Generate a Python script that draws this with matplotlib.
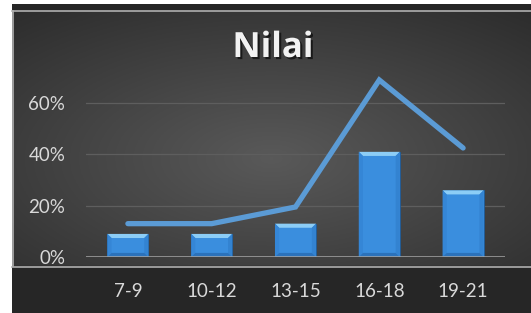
import matplotlib
matplotlib.use("Agg")
import matplotlib.pyplot as plt
import matplotlib.patheffects as pe
from matplotlib.lines import Line2D
from matplotlib.patches import Polygon
import numpy as np

# data
categories = ["7-9", "10-12", "13-15", "16-18", "19-21"]
bar_values = [0.09, 0.09, 0.13, 0.41, 0.26]
line_values = [0.13, 0.13, 0.195, 0.69, 0.425]
y_ticks = [0.0, 0.2, 0.4, 0.6]
title = "Nilai"

W, H = 531, 313
fig = plt.figure(figsize=(W / 100, H / 100), dpi=100)
fig.patch.set_facecolor("white")

# dark backdrop with a soft radial light in the middle
bg = fig.add_axes([12 / W, 0, 1 - 12 / W, 1 - 4 / H])
gx, gy = np.meshgrid(np.linspace(-1, 1, 300), np.linspace(-1, 1, 200))
r = np.sqrt((gx * 0.8) ** 2 + (gy * 1.0) ** 2)
shade = np.clip(0.35 - 0.14 * r, 0.17, 0.35)
bg.imshow(np.dstack([shade] * 3), aspect="auto", extent=[0, 1, 0, 1], zorder=0)
bg.fill_between([0, 1], 0, (313 - 266) / (H - 4), color="#262626", zorder=1)
bg.fill_between([0, 1], 1 - 6 / (H - 4), 1, color="#262626", zorder=1)
bg.set_xlim(0, 1)
bg.set_ylim(0, 1)
bg.axis("off")

# thin light frame of the chart area
frame = dict(color="#b0b0b0", lw=1.2, transform=fig.transFigure)
fig.add_artist(Line2D([12 / W, 1], [1 - 10.5 / H] * 2, **frame))
fig.add_artist(Line2D([12.5 / W] * 2, [1 - 10.5 / H, 1 - 266 / H], **frame))
fig.add_artist(Line2D([12 / W, 1], [1 - 266.5 / H] * 2, **frame))

ymax = 0.72
px_per_unit = 51.3 / 0.2
ax_h = ymax * px_per_unit / H
ax = fig.add_axes([86 / W, (H - 257) / H, 419 / W, ax_h])
ax.patch.set_alpha(0)

x = np.arange(len(categories))
bw = 0.49
bars = ax.bar(x, bar_values, width=bw, color="#3a8ede", edgecolor="#1f5a96",
              linewidth=0.6, zorder=3)

# bevel look on each bar
dx, dy = 0.05, 0.016
for xi, h in zip(x, bar_values):
    l, rr = xi - bw / 2, xi + bw / 2
    ax.add_patch(Polygon([[l, h], [rr, h], [rr - dx, h - dy], [l + dx, h - dy]],
                         closed=True, color="#8ccdf6", lw=0, zorder=4))
    ax.add_patch(Polygon([[l, 0], [l, h], [l + dx, h - dy], [l + dx, dy]],
                         closed=True, color="#3586d6", lw=0, zorder=4))
    ax.add_patch(Polygon([[rr, 0], [rr, h], [rr - dx, h - dy], [rr - dx, dy]],
                         closed=True, color="#3383d1", lw=0, zorder=4))
    ax.add_patch(Polygon([[l, 0], [rr, 0], [rr - dx, dy], [l + dx, dy]],
                         closed=True, color="#2b72bb", lw=0, zorder=4))

ax.plot(x, line_values, color="#5b9bd5", lw=3.8, solid_capstyle="round",
        solid_joinstyle="miter", zorder=5, clip_on=False)

ax.set_xlim(-0.5, len(categories) - 0.5)
ax.set_ylim(0, ymax)
ax.set_yticks(y_ticks)
ax.set_yticklabels([f"{int(v * 100)}%" for v in y_ticks])
ax.set_xticks(x)
ax.set_xticklabels(categories)
for v in y_ticks[1:]:
    ax.axhline(v, color="#5e5e5e", lw=0.9, zorder=1)
ax.axhline(0, color="#a6a6a6", lw=1.8, zorder=6)

for s in ax.spines.values():
    s.set_visible(False)
ax.tick_params(axis="both", length=0, colors="#d9d9d9", labelsize=13.5)
ax.tick_params(axis="y", pad=15)
ax.tick_params(axis="x", pad=19)
for t in ax.get_xticklabels() + ax.get_yticklabels():
    t.set_fontfamily(["Lato", "DejaVu Sans"])

fig.text(273 / W, 1 - 48 / H, title, ha="center", va="center",
         fontsize=25, fontweight="bold", color="#f2f2f2",
         family=["Open Sans", "DejaVu Sans"],
         path_effects=[pe.withSimplePatchShadow(offset=(1.5, -1.5),
                                                shadow_rgbFace="black", alpha=0.6)])

fig.savefig("out.png", dpi=100, facecolor=fig.get_facecolor())
